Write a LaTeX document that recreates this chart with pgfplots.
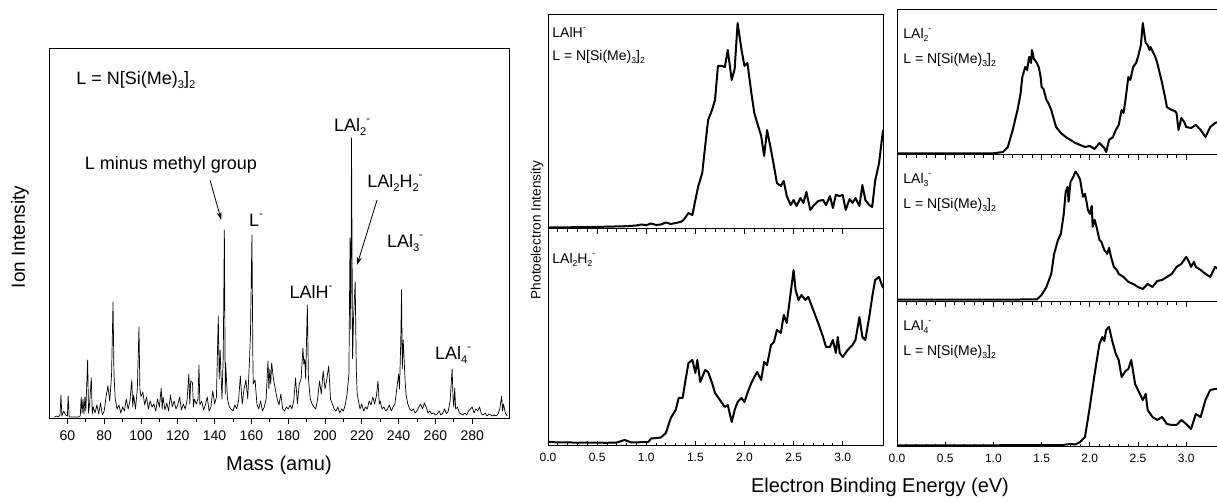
\documentclass[border=0pt]{standalone}
\usepackage{pgfplots}
\pgfplotsset{compat=1.18}
\usepackage{fontspec}
\setmainfont{Liberation Sans}
\usetikzlibrary{arrows.meta}
\newcommand{\sbs}[1]{\raisebox{-0.45ex}{\scalebox{0.62}{#1}}}
\newcommand{\sps}[1]{\raisebox{0.95ex}{\scalebox{0.62}{#1}}}
\newcommand{\Lform}{L = N[Si(Me)\sbs{3}]\sbs{2}}
\begin{document}
\begin{tikzpicture}
\useasboundingbox (0,0) rectangle (608.5pt,250.5pt);
\pgfplotsset{
  base/.style={scale only axis, ytick=\empty, axis line style={line width=0.5pt},
    /pgf/number format/assume math mode=true,
    every tick/.style={black, line width=0.4pt}},
  pes/.style={base, xmin=0, xmax=3.41, ymin=0, width=167.5pt,
    xtick={0,0.5,...,3.0}, minor x tick num=4, tick align=inside,
    major tick length=2.5pt, minor tick length=1.5pt,
    xticklabel style={font=\fontsize{6}{7}\selectfont, /pgf/number format/.cd, fixed, fixed zerofill, precision=1},
    },
  sp/.style={black, line width=1pt, line join=round},
}
% ---------------- mass spectrum
\begin{axis}[base, at={(24.5pt,41pt)}, anchor=south west, width=230pt, height=185pt,
  xmin=50, xmax=300, ymin=0, ymax=370, xtick={60,80,...,280}, minor x tick num=1,
  xtick pos=bottom, tick align=outside, major tick length=2.5pt, minor tick length=1.5pt,
  xticklabel style={font=\fontsize{7}{8}\selectfont}]
\addplot[black, line width=0.35pt, line join=round] table {
53 2
54 3
55 2
56 4
56.5 24
57 3
58 8
59 4
60 3
60.4 23
61 2
62 2
63 2
64 2
65 2
66 2
67 3
67.5 22
68 6
68.5 20
69 5
69.5 22
70 8
71 59
71.5 6
72 14
73 41
73.5 5
74 12
75 6
76 14
77 5
78 16
79 4
80 8
81 22
82 33
83 18
84 44
84.8 117
85.3 45
86 20
87 10
88 14
89 6
90 12
91 8
92 20
93 10
94 18
95 39
95.5 12
96 24
97 10
98 30
98.9 92
99.4 30
100 22
101 27
102 14
103 22
104 10
105 18
106 12
107 15
108 8
109 20
110 12
111 31
111.5 10
112 22
113 9
114 16
115 8
116 24
117 12
118 18
119 10
120 14
121 22
122 9
123 15
124 10
125 18
126 45
126.5 15
127 38
128 36
128.5 12
129 20
130 15
131 20
131.5 54
132 14
133 18
134 9
135 14
136 22
137 8
138 12
139 28
140 15
141 22
142 103
142.5 40
143 69
144 20
144.7 62
145.3 189
145.8 25
146 56
147 20
148 12
149 10
150 8
151 14
152 10
153 18
154 43
155 15
156 30
157 39
158 20
159 60
159.5 86
160.3 184
160.8 60
161 35
162 39
163 15
164 10
165 18
166 8
167 12
168 20
169 58
169.5 30
170 50
170.5 35
171 56
172 40
173 30
174 20
175 14
176 25
177 10
178 8
179 12
180 10
181 14
182 10
183 18
184 41
185 15
186 35
187 40
188 71
188.5 55
189 60
189.5 40
190.4 114
191 40
192 20
193 15
194 12
195 10
196 20
197 38
198 25
199 48
200 30
201 40
202 53
203 20
204 15
205 10
206 8
207 12
208 6
209 10
210 8
211 14
212 25
213 45
213.6 181
214 90
214.4 281
215 60
215.5 100
216.4 137
217 50
217.5 25
218 20
219 10
220 15
221 8
222 12
223 10
224 18
225 14
226 22
227 15
228 24
228.8 38
229.5 15
230 18
231 10
232 12
233 8
234 10
235 14
236 8
237 12
238 15
239 30
240 45
240.5 30
241.2 80
241.6 129
242 50
242.5 79
243 60
243.5 40
244 25
245 15
246 10
247 8
248 10
249 6
250 8
251 12
252 15
253 10
254 16
255 12
256 6
257 8
258 5
259 6
260 4
261 5
262 8
263 4
264 6
265 10
266 5
267 8
268 18
269.1 50
269.6 20
270 12
270.5 31
271 10
272 12
273 6
274 5
275 4
276 6
277 4
278 8
279 10
280 12
281 6
282 10
283 8
284 12
285 5
286 4
287 6
288 3
289 5
290 4
291 3
292 4
293 3
294 5
295 10
296 23
296.5 8
297 15
298 6
299 3
};
\begin{scope}[font=\fontsize{9}{10}\selectfont]
\node[anchor=west] at (axis cs:61,339) {\Lform};
\node at (axis cs:116.3,254) {L minus methyl group};
\draw[-{Stealth[length=4pt,width=2.5pt]}, line width=0.4pt] (axis cs:137.5,239) -- (axis cs:143.6,199);
\node at (axis cs:162.5,199) {L\sps{-}};
\node at (axis cs:192.4,127) {LAlH\sps{-}};
\node at (axis cs:214.7,292) {LAl\sbs{2}\sps{-}};
\node at (axis cs:238,236) {LAl\sbs{2}H\sbs{2}\sps{-}};
\draw[-{Stealth[length=4pt,width=2.5pt]}, line width=0.4pt] (axis cs:228.3,219) -- (axis cs:217.4,154);
\node at (axis cs:243.5,176) {LAl\sbs{3}\sps{-}};
\node at (axis cs:269.6,64) {LAl\sbs{4}\sps{-}};
\end{scope}
\end{axis}
\node[rotate=90, font=\fontsize{9.5}{10}\selectfont] at (10pt,132pt) {Ion Intensity};
\node[font=\fontsize{10}{11}\selectfont] at (139.5pt,18pt) {Mass (amu)};
% ---------------- middle top LAlH-
\begin{axis}[pes, at={(274pt,136pt)}, anchor=south west, height=107pt, ymax=214, xtick=\empty]
\addplot[sp] table {
0.0 1.7
0.2 1.7
0.4 1.9
0.6 2.3
0.8 2.8
0.9 3.5
0.95 4.5
1.0 3.8
1.05 5.5
1.1 4
1.15 4.5
1.2 6.5
1.25 5
1.3 6
1.35 7
1.38 9
1.43 16
1.47 14
1.5 29
1.53 43
1.57 56
1.6 83
1.63 109
1.67 119
1.7 129
1.73 163
1.77 163
1.8 162
1.83 179
1.87 149
1.9 160
1.93 206
1.97 179
2.0 163
2.03 166
2.07 136
2.1 116
2.13 106
2.17 93
2.2 73
2.23 99
2.27 79
2.3 63
2.33 46
2.37 43
2.4 48
2.43 33
2.47 24
2.5 29
2.53 23
2.57 31
2.6 26
2.63 37
2.67 19
2.7 23
2.75 28
2.8 29
2.83 24
2.87 33
2.9 21
2.93 34
2.97 33
3.0 34
3.03 19
3.07 30
3.1 26
3.13 31
3.17 23
3.2 44
3.23 29
3.27 24
3.3 22
3.33 48
3.37 66
3.41 99
};
\node[anchor=north west, align=left, font=\fontsize{7}{11.5}\selectfont, inner sep=0pt] at ([xshift=2pt,yshift=-6pt]rel axis cs:0,1) {LAlH\sps{-}\\\Lform};
\end{axis}
% ---------------- middle bottom LAl2H2-
\begin{axis}[pes, at={(274pt,27.5pt)}, anchor=south west, height=108.5pt, ymax=217,
  xtick pos=both, xticklabel pos=lower]
\addplot[sp] table {
0.0 4.3
0.1 3.5
0.2 3.7
0.3 3.2
0.4 3.5
0.5 3.3
0.6 3.2
0.7 3.5
0.78 6
0.85 3.5
0.95 3.8
1.02 4
1.05 7.5
1.15 8.5
1.2 13
1.25 28
1.3 36
1.33 48
1.37 48
1.4 66
1.43 83
1.47 86
1.5 73
1.52 86
1.55 64
1.6 76
1.63 74
1.67 63
1.7 53
1.75 46
1.8 39
1.83 41
1.87 24
1.9 36
1.93 44
1.97 48
2.0 44
2.03 53
2.07 63
2.1 69
2.13 74
2.17 66
2.2 84
2.23 81
2.27 101
2.3 104
2.33 116
2.37 113
2.4 131
2.43 123
2.47 153
2.5 176
2.52 156
2.55 146
2.58 151
2.62 146
2.65 149
2.7 136
2.75 123
2.8 109
2.83 99
2.87 99
2.9 106
2.93 93
2.95 109
2.97 93
3.0 89
3.05 96
3.1 101
3.13 106
3.17 129
3.2 109
3.23 106
3.27 129
3.3 149
3.33 166
3.37 169
3.41 158
};
\node[anchor=north west, font=\fontsize{7}{8}\selectfont, inner sep=0pt] at ([xshift=2pt,yshift=-12pt]rel axis cs:0,1) {LAl\sbs{2}H\sbs{2}\sps{-}};
\end{axis}
\node[rotate=90, font=\fontsize{6.8}{8}\selectfont] at (268.5pt,135.5pt) {Photoelectron Intensity};
\node[font=\fontsize{10}{11}\selectfont] at (440pt,7pt) {Electron Binding Energy (eV)};
% ---------------- right top LAl2-
\begin{axis}[pes, xmax=3.33, width=160.5pt, axis y line*=left, at={(448.5pt,173pt)}, anchor=south west, height=72.5pt, ymax=145, xtick=\empty]
\addplot[sp] table {
0.0 1.7
0.5 1.7
1.0 1.7
1.1 3
1.15 8
1.2 25
1.25 45
1.28 60
1.3 78
1.33 88
1.35 85
1.37 98
1.39 92
1.4 105
1.42 96
1.43 95
1.45 92
1.47 88
1.49 78
1.5 68
1.52 66
1.55 55
1.57 52
1.6 45
1.65 28
1.7 22
1.75 18
1.8 15
1.85 12
1.9 10
1.95 8
2.0 9
2.05 6
2.1 12
2.15 7
2.17 3
2.2 15
2.24 18
2.27 25
2.3 30
2.33 45
2.35 42
2.37 55
2.4 78
2.42 75
2.45 88
2.48 92
2.5 98
2.53 110
2.55 132
2.57 118
2.58 112
2.6 110
2.62 105
2.63 108
2.65 104
2.68 98
2.7 92
2.73 80
2.75 72
2.78 58
2.8 48
2.83 46
2.85 45
2.88 44
2.9 42
2.92 25
2.95 37
2.98 33
3.0 28
3.05 27
3.1 30
3.15 25
3.2 18
3.25 28
3.3 32
3.33 33
};
\node[anchor=north west, align=left, font=\fontsize{7}{12.5}\selectfont, inner sep=0pt] at ([xshift=3pt,yshift=-9pt]rel axis cs:0,1) {LAl\sbs{2}\sps{-}\\\Lform};
\end{axis}
% ---------------- right middle LAl3-
\begin{axis}[pes, xmax=3.33, width=160.5pt, axis y line*=left, at={(448.5pt,99.5pt)}, anchor=south west, height=73.5pt, ymax=146.7,
  xtick pos=top, xticklabels={}]
\addplot[sp] table {
0.0 2.3
0.5 2.3
1.0 2.3
1.3 2.5
1.45 2.5
1.5 7
1.55 15
1.6 28
1.63 48
1.67 62
1.7 68
1.73 88
1.75 110
1.77 115
1.78 100
1.8 120
1.83 125
1.85 130
1.87 128
1.9 122
1.92 110
1.93 105
1.95 108
1.97 98
1.98 92
2.0 88
2.02 96
2.03 75
2.05 82
2.07 75
2.1 62
2.12 60
2.15 52
2.18 48
2.2 54
2.22 45
2.25 35
2.28 32
2.3 28
2.35 25
2.4 20
2.45 18
2.5 15
2.55 13
2.6 18
2.65 15
2.7 21
2.75 22
2.8 25
2.85 28
2.9 35
2.95 38
3.0 45
3.03 40
3.05 35
3.08 40
3.1 35
3.15 32
3.2 28
3.25 25
3.3 35
3.33 33
};
\node[anchor=north west, align=left, font=\fontsize{7}{12.5}\selectfont, inner sep=0pt] at ([xshift=3pt,yshift=-9pt]rel axis cs:0,1) {LAl\sbs{3}\sps{-}\\\Lform};
\end{axis}
% ---------------- right bottom LAl4-
\begin{axis}[pes, xmax=3.33, width=160.5pt, axis y line*=left, at={(448.5pt,27pt)}, anchor=south west, height=72.5pt, ymax=145,
  xtick pos=both, xticklabel pos=lower]
\addplot[sp] table {
0.0 1.7
0.5 1.7
1.0 1.7
1.5 2
1.7 1.8
1.8 3
1.85 2.5
1.9 5
1.95 10
2.0 40
2.05 73
2.1 103
2.13 110
2.15 106
2.17 117
2.2 120
2.23 107
2.27 93
2.3 87
2.33 70
2.37 76
2.4 78
2.43 87
2.47 63
2.5 57
2.55 47
2.58 53
2.6 37
2.65 30
2.7 27
2.75 30
2.8 23
2.85 22
2.9 22
2.95 27
3.0 23
3.05 18
3.1 33
3.15 30
3.2 47
3.25 57
3.3 58
3.33 58
};
\node[anchor=north west, align=left, font=\fontsize{7}{12.5}\selectfont, inner sep=0pt] at ([xshift=3pt,yshift=-9pt]rel axis cs:0,1) {LAl\sbs{4}\sps{-}\\\Lform};
\end{axis}
\end{tikzpicture}
\end{document}
